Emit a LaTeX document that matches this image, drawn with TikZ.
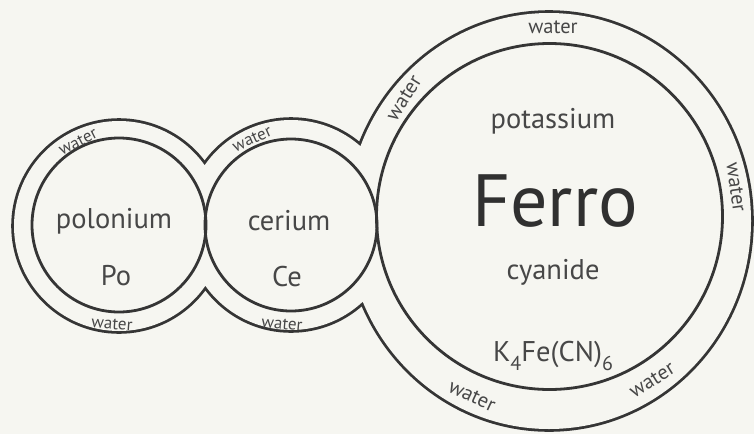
\documentclass[tikz,border=0pt]{standalone}
\usepackage{fontspec}
\setmainfont{PT Sans}
\definecolor{bg}{HTML}{F6F6F1}
\definecolor{ink}{HTML}{353535}
\definecolor{txt}{HTML}{474747}
\newcommand{\subdrop}[1]{\raisebox{-0.32em}{\fontsize{20}{20}\selectfont #1}}
\tikzset{
  ringline/.style={draw=ink, line width=2.8pt},
  outerline/.style={draw=ink, line width=5.6pt},
  lbl/.style={text=txt, inner sep=0pt, font=\fontsize{28.5}{30}\selectfont},
  big/.style={text=ink!90!black, inner sep=0pt, font=\fontsize{74}{78}\selectfont},
  wat/.style={text=txt, inner sep=0pt, font=\fontsize{20.5}{22}\selectfont},
  swat/.style={text=txt, inner sep=0pt, font=\fontsize{17}{18}\selectfont},
}
\begin{document}
\begin{tikzpicture}[x=1pt,y=-1pt]
\fill[bg] (0,0) rectangle (754,434);
\useasboundingbox (0,0) rectangle (754,434);
% outer water envelope (union outline)
\path[outerline] (119,226) circle (105pt) (291,225) circle (105pt) (549,221) ellipse (202pt and 208pt);
\fill[bg] (119,226) circle (105pt) (291,225) circle (105pt) (549,221) ellipse (202pt and 208pt);
% inner circles
\draw[ringline] (119,225) circle (87pt);
\draw[ringline] (291,225) circle (86pt);
\draw[ringline] (549.5,216.5) circle (173pt);
% labels
\node[lbl] (polonium) at (114,221) {polonium};
\node[lbl] (po) at (116,276) {Po};
\node[lbl] (cerium) at (289,221) {cerium};
\node[lbl] (ce) at (287,277) {Ce};
\node[lbl] (potassium) at (553,121) {potassium};
\node[big] (ferro) at (555,201) {Ferro};
\node[lbl] (cyanide) at (553,272) {cyanide};
\node[lbl] (formula) at (553,356) {K\subdrop{4}Fe(CN)\subdrop{6}};
% water labels
\node[swat, rotate=27] (wpo1) at (78,142) {water};
\node[swat, rotate=-4] (wpo2) at (112,324) {water};
\node[swat, rotate=24] (wce1) at (252,139) {water};
\node[swat, rotate=-5] (wce2) at (282,324) {water};
\node[wat] (wfe1) at (553,27) {water};
\node[wat, rotate=58] (wfe2) at (404,98) {water};
\node[wat, rotate=-82] (wfe3) at (736,187) {water};
\node[wat, rotate=-25] (wfe4) at (472,396) {water};
\node[wat, rotate=32] (wfe5) at (652,380) {water};
\end{tikzpicture}
\end{document}
